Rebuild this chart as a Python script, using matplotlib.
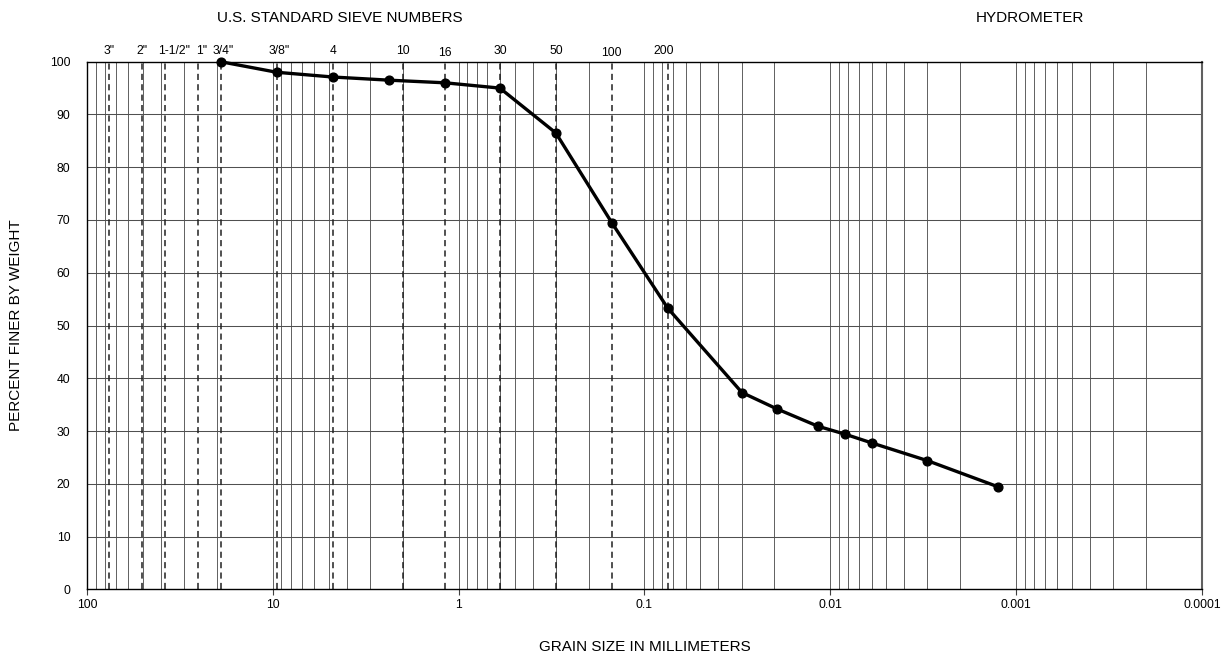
import matplotlib
matplotlib.use("Agg")
import matplotlib.pyplot as plt
import numpy as np
from matplotlib.ticker import FixedLocator, NullFormatter

plt.rcParams['font.family'] = ['Liberation Sans', 'DejaVu Sans']

# Data
grain_size_mm = [19.05, 9.525, 4.75, 2.36, 1.18, 0.6, 0.3, 0.15, 0.075,
                 0.0299, 0.0194, 0.01164, 0.00832, 0.00593, 0.00301, 0.001245]
percent_finer = [100.0, 98.0, 97.1, 96.5, 96.0, 95.0, 86.5, 69.5, 53.3,
                 37.3, 34.2, 30.9, 29.4, 27.7, 24.4, 19.4]

sieve_labels = ['3"', '2"', '1-1/2"', '1"', '3/4"', '3/8"', '4', '10', '16', '30', '50', '100', '200']
sieve_sizes = [76.2, 50.8, 38.1, 25.4, 19.05, 9.525, 4.75, 2.0, 1.18, 0.6, 0.3, 0.15, 0.075]
# small horizontal/vertical nudges of label text (points)
label_dx = [0, 0, 7, 3, 2, 2, 0, 0, 0, 0, 0, 0, -3]
label_dy = [0, 0, 0, 0, 0, 0, 0, 0, -2, 0, 0, -2, 0]

x_ticks = [100, 10, 1, 0.1, 0.01, 0.001, 0.0001]
x_ticklabels = ['100', '10', '1', '0.1', '0.01', '0.001', '0.0001']
y_ticks = list(range(0, 101, 10))

fig = plt.figure(figsize=(12.22, 6.58), dpi=100)
ax = fig.add_axes([0.0712, 0.1044, 0.9124, 0.8018])

ax.set_xscale('log')
ax.set_xlim(100, 0.0001)
ax.set_ylim(0, 100)

# minor vertical grid (2..9 within each decade)
minor = []
for dec in [10, 1, 0.1, 0.01, 0.001, 0.0001]:
    for m in range(2, 10):
        minor.append(dec * m)
for xv in minor:
    ax.axvline(xv, color='#606060', lw=0.7, zorder=1)
for xv in x_ticks[1:-1]:
    ax.axvline(xv, color='#606060', lw=0.7, zorder=1)
for yv in y_ticks[1:-1]:
    ax.axhline(yv, color='#505050', lw=0.75, zorder=1)

# sieve dashed lines and labels
for s, lab, dx, dy in zip(sieve_sizes, sieve_labels, label_dx, label_dy):
    ax.axvline(s, color='#202020', lw=1.1, ls=(0, (4, 2.8)), zorder=2)
    ax.annotate(lab, xy=(s, 1.0), xycoords=('data', 'axes fraction'),
                xytext=(dx, 8 + dy), textcoords='offset points',
                ha='center', va='center', fontsize=8.7)

ax.plot(grain_size_mm, percent_finer, color='black', lw=2.4, marker='o',
        markersize=6.3, zorder=5, clip_on=False)

ax.xaxis.set_major_locator(FixedLocator(x_ticks))
ax.set_xticklabels(x_ticklabels)
ax.xaxis.set_minor_locator(FixedLocator([]))
ax.xaxis.set_minor_formatter(NullFormatter())
ax.set_yticks(y_ticks)
ax.tick_params(axis='x', which='major', direction='out', length=4, width=0.8,
               labelsize=8.7, pad=3, color='#404040')
ax.tick_params(axis='y', which='major', length=0, labelsize=8.7, pad=12)

for sp in ax.spines.values():
    sp.set_color('black')
    sp.set_linewidth(1.0)
ax.spines['right'].set_color('#606060')
ax.spines['right'].set_linewidth(1.5)

fig.text(340 / 1222, 1 - 18 / 658, 'U.S. STANDARD SIEVE NUMBERS', ha='center', va='center', fontsize=11)
fig.text(1030 / 1222, 1 - 18 / 658, 'HYDROMETER', ha='center', va='center', fontsize=11)
fig.text(645 / 1222, 1 - 647 / 658, 'GRAIN SIZE IN MILLIMETERS', ha='center', va='center', fontsize=11)
fig.text(16 / 1222, 1 - 325 / 658, 'PERCENT FINER BY WEIGHT', ha='center', va='center',
         rotation=90, fontsize=11)

fig.savefig('out.png', dpi=100)
